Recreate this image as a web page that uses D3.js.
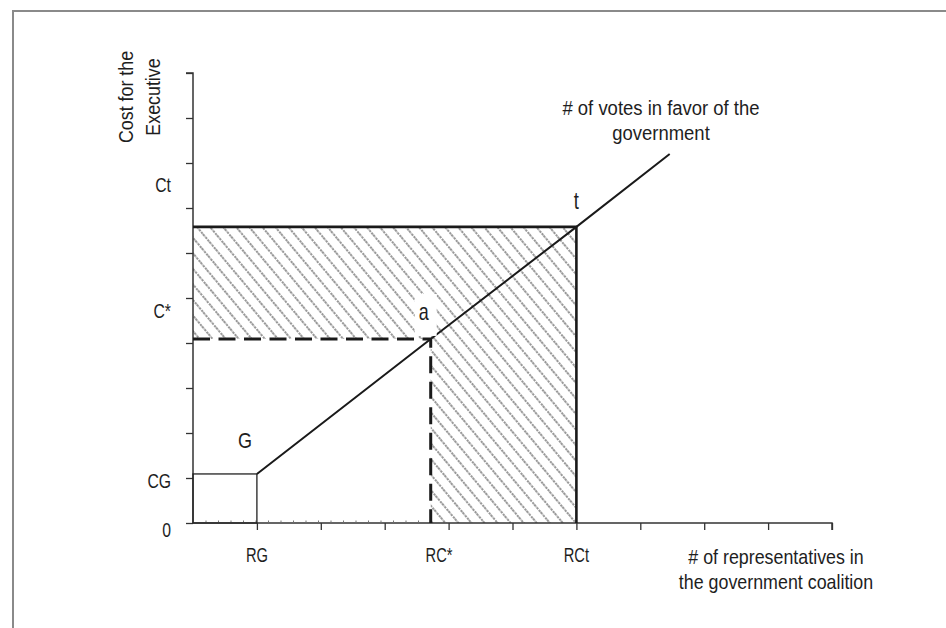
<!DOCTYPE html>
<html>
<head>
<meta charset="utf-8">
<script src="https://cdn.jsdelivr.net/npm/d3@7"></script>
<style>
  html, body { margin: 0; padding: 0; background: #fff; }
  svg { display: block; }
  text { font-family: "Liberation Sans", Arial, sans-serif; fill: #1e1e1e; }
</style>
</head>
<body>
<svg id="chart" width="946" height="628"></svg>
<script>
// ---- data (in axis units) ----
const xTicks = [0, 1, 2, 3, 4, 5, 6, 7, 8, 9, 10];
const yTicks = [0, 1, 2, 3, 4, 5, 6, 7, 8, 9, 10];
const xLabels = ["RG", "RC*", "RCt"];
const xLabelValues = [1, 3.85, 6];
const yLabels = ["Ct", "C*", "CG", "0"];
const yLabelValues = [7.36, 4.56, 0.78, -0.31];
const RG = 1, CG = 1.09;
const RCstar = 3.72, Cstar = 4.09;
const RCt = 6, Ct = 6.58;
const votesX = [1, 3.72, 6, 7.46];
const votesY = [1.09, 4.09, 6.58, 8.2];
const yTitle = ["Cost for the", "Executive"];
const xTitle = ["# of representatives in", "the government coalition"];
const lineTitle = ["# of votes in favor of the", "government"];

const svg = d3.select("#chart");

function addText(parent, str, tx, ty, size, anchor, sx, extra) {
  return parent.append("text")
    .attr("transform", `translate(${tx},${ty}) ${extra || ""} scale(${sx},1)`)
    .attr("text-anchor", anchor).attr("font-size", size).text(str);
}

// frame
svg.append("path").attr("d", "M13,628 V11 H946")
  .attr("fill", "none").attr("stroke", "#8a8a8a").attr("stroke-width", 2);

const x = d3.scaleLinear().domain([0, 10]).range([193, 832]);
const y = d3.scaleLinear().domain([0, 10]).range([523, 73]);

// hatch pattern
const defs = svg.append("defs");
const pat = defs.append("pattern").attr("id", "hatch")
  .attr("patternUnits", "userSpaceOnUse").attr("width", 10).attr("height", 10)
  .attr("patternTransform", "rotate(-40)");
pat.append("line").attr("x1", 5).attr("y1", 0).attr("x2", 5).attr("y2", 10)
  .attr("stroke", "#444").attr("stroke-width", 1.1).attr("stroke-dasharray", "2.5,1");

// hatched L-shaped region
const hatchPath = d3.path();
hatchPath.moveTo(x(0), y(Ct));
hatchPath.lineTo(x(RCt), y(Ct));
hatchPath.lineTo(x(RCt), y(0));
hatchPath.lineTo(x(RCstar), y(0));
hatchPath.lineTo(x(RCstar), y(Cstar));
hatchPath.lineTo(x(0), y(Cstar));
hatchPath.closePath();
svg.append("path").attr("d", hatchPath.toString()).attr("fill", "url(#hatch)");

// axes
const yAxis = d3.axisLeft(y).tickValues(yTicks).tickSize(7).tickFormat("");
const gy = svg.append("g").attr("transform", `translate(${x(0)},0)`).call(yAxis);
gy.select(".domain").attr("d", `M-7,${y(10)}H0V${y(0)}`);
const xAxis = d3.axisBottom(x).tickValues(xTicks).tickSize(7).tickFormat("");
const gx = svg.append("g").attr("transform", `translate(0,${y(0)})`).call(xAxis);
gx.select(".domain").attr("d", `M${x(0)},0H${x(10)}V7`);
svg.selectAll(".domain").attr("stroke", "#333").attr("stroke-width", 1.5);
svg.selectAll(".tick line").attr("stroke", "#333").attr("stroke-width", 1.3);
gx.selectAll(".tick").filter(d => d === 0).remove();

// small dotted marks along base up to RC*
svg.append("line").attr("x1", x(0)).attr("x2", x(RCstar)).attr("y1", y(0) - 1.5).attr("y2", y(0) - 1.5)
  .attr("stroke", "#777").attr("stroke-width", 2).attr("stroke-dasharray", "1,11.5");

// G rectangle
svg.append("rect").attr("x", x(0)).attr("y", y(CG))
  .attr("width", x(RG) - x(0)).attr("height", y(0) - y(CG))
  .attr("fill", "none").attr("stroke", "#222").attr("stroke-width", 1.3);

// solid borders of the total cost rectangle
svg.append("path")
  .attr("d", `M${x(0)},${y(Ct)}H${x(RCt)}V${y(0)}`)
  .attr("fill", "none").attr("stroke", "#1a1a1a").attr("stroke-width", 2.6);

// dashed lines at a
svg.append("path")
  .attr("d", `M${x(0)},${y(Cstar)}H${x(RCstar)}V${y(0)}`)
  .attr("fill", "none").attr("stroke", "#1a1a1a").attr("stroke-width", 3)
  .attr("stroke-dasharray", "17,8.5");

// votes line
const line = d3.line().x(d => x(d[0])).y(d => y(d[1]));
svg.append("path").datum(d3.zip(votesX, votesY)).attr("d", line)
  .attr("fill", "none").attr("stroke", "#1a1a1a").attr("stroke-width", 2);

// label "a" with white box
svg.append("rect").attr("x", x(RCstar) - 16).attr("y", y(Cstar) - 45).attr("width", 22).attr("height", 42).attr("fill", "#fff");
addText(svg, "a", x(RCstar) - 7, y(Cstar) - 19, 23, "middle", 0.78);
addText(svg, "t", x(RCt), y(Ct) - 18, 23, "middle", 0.8);
addText(svg, "G", x(RG) - 12, y(CG) - 26, 22, "middle", 0.82);

// tick labels
xLabels.forEach((d, i) => addText(svg, d, x(xLabelValues[i]), 562, 21, "middle", 0.7));
yLabels.forEach((d, i) => addText(svg, d, 171, y(yLabelValues[i]), 21, "end", 0.75));

// titles
yTitle.forEach((d, i) => addText(svg, d, 133 + i * 27, 97, 21, "middle", 0.85, "rotate(-90)"));
xTitle.forEach((d, i) => addText(svg, d, 776, 564 + i * 25, 21, "middle", 0.85));
lineTitle.forEach((d, i) => addText(svg, d, 661, 115 + i * 25, 21, "middle", 0.88));
</script>
</body>
</html>
